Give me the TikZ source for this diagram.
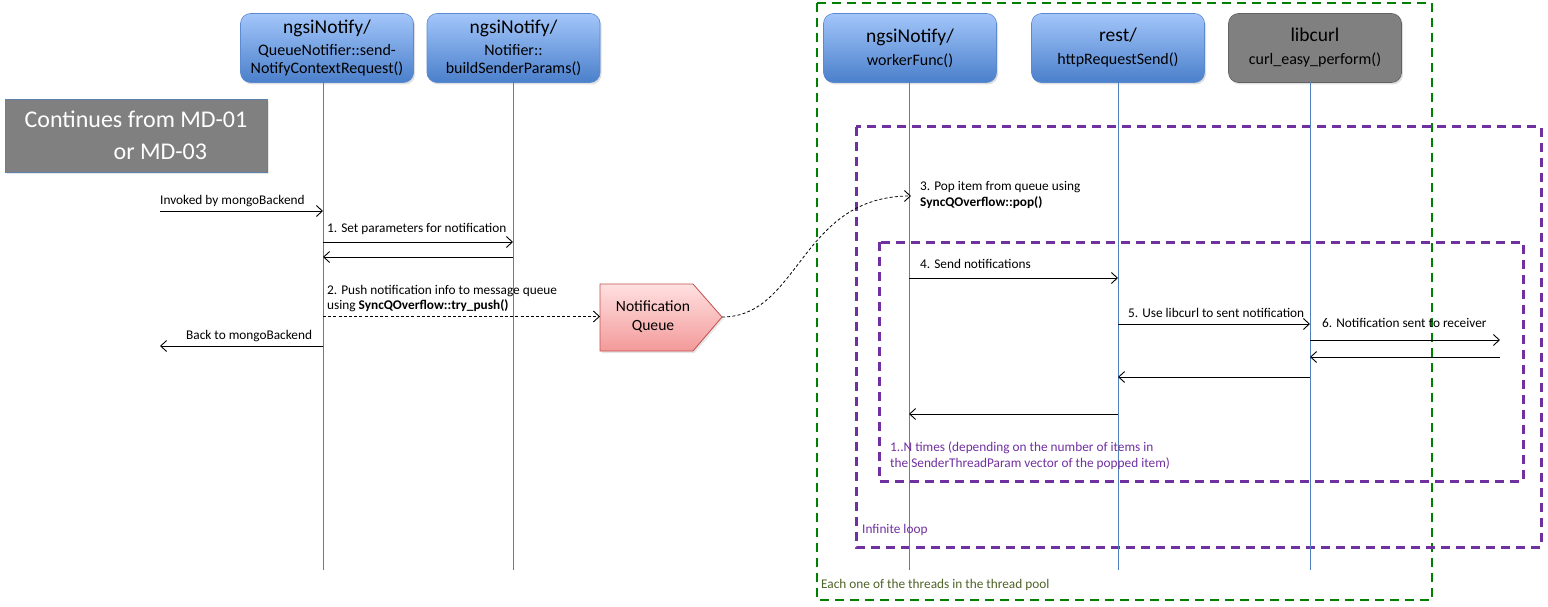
\documentclass[tikz,border=0pt]{standalone}
\usepackage{fontspec}
\setmainfont{Carlito}
\usetikzlibrary{arrows.meta,shadows,calc}
\definecolor{lifeblue}{HTML}{4F81BD}
\definecolor{hdrtop}{HTML}{A3C6FA}
\definecolor{hdrbot}{HTML}{4A7FCB}
\definecolor{hdrline}{HTML}{5B8AD0}
\definecolor{loopcol}{HTML}{7030A0}
\definecolor{poolcol}{HTML}{008000}
\definecolor{pooltxt}{HTML}{4F6228}
\definecolor{qtop}{HTML}{FFE0E0}
\definecolor{qbot}{HTML}{F39A9A}
\definecolor{qline}{HTML}{C0504D}
\newcommand{\htitle}{\fontsize{19.5}{21}\selectfont}
\newcommand{\hsub}{\fontsize{16}{18}\selectfont}
\begin{document}
\begin{tikzpicture}[x=1pt,y=-1pt,
  hdr/.style={rounded corners=10pt, top color=hdrtop, bottom color=hdrbot, draw=hdrline, line width=0.6pt,
    minimum width=173pt, minimum height=69pt, inner sep=0pt, align=center, font=\hsub,
    drop shadow={opacity=0.25,shadow xshift=1.5pt,shadow yshift=-2pt}},
  lifeline/.style={draw=lifeblue, line width=0.8pt},
  msg/.style={draw=black, line width=0.9pt, -{Straight Barb[length=6pt,width=11pt,line width=0.9pt]}},
  dmsg/.style={msg, dash pattern=on 3pt off 2.2pt},
  lbl/.style={anchor=west, inner sep=0pt, font=\fontsize{13.3}{15.8}\selectfont, align=left},
  loopbox/.style={draw=loopcol, line width=3pt, dash pattern=on 9pt off 6pt},
  poolbox/.style={draw=poolcol, line width=2.6pt, dash pattern=on 9pt off 6pt},
]
\useasboundingbox (0,0) rectangle (1548,607);

% frames
\draw[poolbox] (817,3) rectangle (1432,600);
\draw[loopbox] (856,127) rectangle (1541,547);
\draw[loopbox] (879,242) rectangle (1523,481);

% header boxes
\node[hdr] (b1) at (327,48) {{\htitle ngsiNotify/}\\[4pt]QueueNotifier::send-\\NotifyContextRequest()};
\node[hdr] (b2) at (513.5,48) {{\htitle ngsiNotify/}\\[4pt]Notifier::\\buildSenderParams()};
\node[hdr] (b3) at (910,48) {{\htitle ngsiNotify/}\\[5pt]workerFunc()};
\node[hdr] (b4) at (1118,48) {{\htitle rest/}\\[5pt]httpRequestSend()};
\node[hdr, top color=black!50, bottom color=black!50, draw=black!62] (b5) at (1315,48) {{\htitle libcurl}\\[5pt]curl\_easy\_perform()};

% continues box
\node[fill=black!50, draw=lifeblue!70!gray, line width=0.8pt, minimum width=262pt, minimum height=73pt,
  text=white, align=left, inner sep=0pt, font=\fontsize{24}{32}\selectfont,
  drop shadow={opacity=0.2,shadow xshift=1.5pt,shadow yshift=-2pt}] (cont) at (136,135.5)
  {Continues from MD-01\\\hspace*{89pt}or MD-03};

% lifelines
\foreach \n/\x in {1/323,2/513,3/909,4/1118,5/1310}{
  \coordinate (t\n) at (\x,82);
  \coordinate (e\n) at (\x,570);
  \draw[lifeline] (t\n) -- (e\n);
}

% notification queue
\coordinate (qw) at (600,317);
\coordinate (qe) at (722,317);
\shade[top color=qtop, bottom color=qbot, draw=qline, line width=0.8pt,
  drop shadow={opacity=0.2,shadow xshift=1.5pt,shadow yshift=-2pt}]
  (600,284) -- (693,284) -- (qe) -- (693,351) -- (600,351) -- cycle;
\node[align=center, inner sep=0pt, font=\fontsize{15.6}{19}\selectfont] (q) at (653,317) {Notification\\Queue};

% external endpoints
\coordinate (mb1) at (160,211);
\coordinate (mb2) at (160,346);
\coordinate (rcv1) at (1500,340);
\coordinate (rcv2) at (1500,357);

% left messages
\draw[msg] (mb1) -- (t1|-mb1);
\node[lbl] (l0) at (160,201) {Invoked by mongoBackend};

\coordinate (m1) at (0,242);
\draw[msg] (t1|-m1) -- (t2|-m1);
\node[lbl] (l1) at (327,229) {1. Set parameters for notification};
\coordinate (m1r) at (0,257);
\draw[msg] (t2|-m1r) -- (t1|-m1r);

\coordinate (m2) at (0,316.5);
\draw[dmsg] (t1|-m2) -- (qw|-m2);
\node[lbl] (l2) at (327,298.5) {2. Push notification info to message queue\\using \textbf{SyncQOverflow::try\_push()}};

\draw[msg] (t1|-mb2) -- (mb2);
\node[lbl] (l3) at (186,336) {Back to mongoBackend};

% queue to worker
\coordinate (pop) at (911,196);
\draw[dmsg, line width=0.8pt] (qe) .. controls (800,317) and (800,196) .. (pop);
\node[lbl] (l4) at (920,195) {3. Pop item from queue using\\\textbf{SyncQOverflow::pop()}};

% right messages
\coordinate (m4) at (0,278);
\draw[msg] (t3|-m4) -- (t4|-m4);
\node[lbl] (l5) at (920,264) {4. Send notifications};

\coordinate (m5) at (0,324);
\draw[msg] (t4|-m5) -- (t5|-m5);
\node[lbl] (l6) at (1128,313) {5. Use libcurl to sent notification};

\draw[msg] (t5|-rcv1) -- (rcv1);
\node[lbl] (l7) at (1322,323) {6. Notification sent to receiver};
\draw[msg] (rcv2) -- (t5|-rcv2);

\coordinate (m5r) at (0,377);
\draw[msg] (t5|-m5r) -- (t4|-m5r);
\coordinate (m4r) at (0,414);
\draw[msg] (t4|-m4r) -- (t3|-m4r);

% loop labels
\node[lbl, text=loopcol] (l8) at (890,456) {1..N times (depending on the number of items in\\the SenderThreadParam vector of the popped item)};
\node[lbl, text=loopcol] (l9) at (862,530) {Infinite loop};
\node[lbl, text=pooltxt] (l10) at (821,585) {Each one of the threads in the thread pool};
\end{tikzpicture}
\end{document}
